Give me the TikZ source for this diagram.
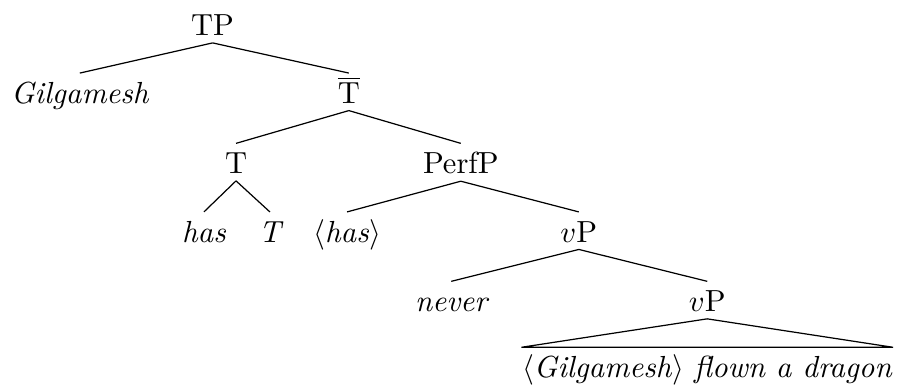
\documentclass[tikz,border=0pt]{standalone}
\begin{document}
\begin{tikzpicture}[
    phrase/.style={anchor=base, text height=7.5pt, inner sep=2.2pt},
    word/.style={phrase, font=\itshape}]
    \useasboundingbox (0,0) rectangle (10.36,4.44);

    % TP level
    \node[phrase] (TP) at (2.45,4.03) {TP};
    \node[word] (gil) at (0.92,3.25) {Gilgamesh};
    \node[phrase] (Tbar) at (4.02,3.25) {$\overline{\mbox{T}}$};
    \draw (TP.south) -- (gil.north);
    \draw (TP.south) -- (Tbar.north);

    % T-bar splits into T and PerfP
    \node[phrase] (T) at (2.72,2.44) {T};
    \node[phrase] (PerfP) at (5.31,2.44) {PerfP};
    \draw (Tbar.south) -- (T.north);
    \draw (Tbar.south) -- (PerfP.north);

    % Head T
    \node[word] (has) at (2.35,1.65) {has};
    \node[word] (Tit) at (3.11,1.65) {T};
    \draw (T.south) -- (has.north);
    \draw (T.south) -- (Tit.north);

    % PerfP
    \node[phrase] (hascopy) at (4.00,1.65) {$\langle$\textit{has}$\rangle$};
    \node[phrase] (vP) at (6.67,1.65) {$v$P};
    \draw (PerfP.south) -- (hascopy.north);
    \draw (PerfP.south) -- (vP.north);

    % Upper vP
    \node[word] (never) at (5.20,0.85) {never};
    \node[phrase] (vPlow) at (8.15,0.85) {$v$P};
    \draw (vP.south) -- (never.north);
    \draw (vP.south) -- (vPlow.north);

    % Lower vP as a triangle
    \node[phrase, inner xsep=0pt] (rest) at (8.15,0.09)
        {$\langle$\textit{Gilgamesh}$\rangle$ \textit{flown a dragon}};
    \draw (vPlow.south) -- (rest.north west) -- (rest.north east) -- cycle;

\end{tikzpicture}
\end{document}
